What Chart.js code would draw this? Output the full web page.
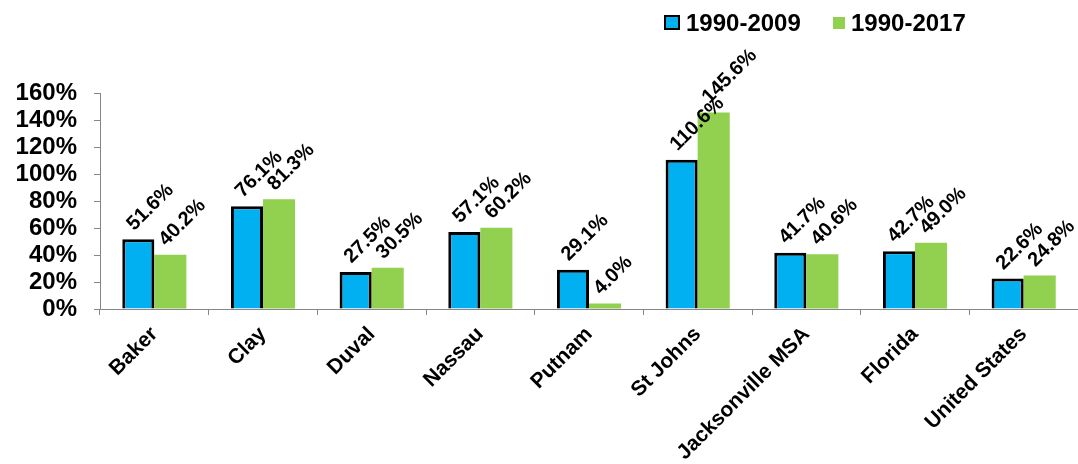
<!DOCTYPE html>
<html>
<head>
<meta charset="utf-8">
<script src="https://cdn.jsdelivr.net/npm/chart.js@4.4.1/dist/chart.umd.min.js"></script>
<style>
  html, body { margin: 0; padding: 0; background: #fff; }
  #wrap { position: relative; width: 1078px; height: 464px; overflow: hidden; }
  #chart { position: absolute; left: 0; top: 0; }
  .legend-box { position: absolute; box-sizing: border-box; }
  .legend-text {
    position: absolute;
    font: bold 24px 'Liberation Sans', Arial, sans-serif;
    line-height: 24px;
    color: #000;
    white-space: nowrap;
  }
</style>
</head>
<body>
<div id="wrap">
  <canvas id="chart" width="1078" height="464"></canvas>
  <div id="legend"></div>
</div>
<script>
const categories = ['Baker', 'Clay', 'Duval', 'Nassau', 'Putnam', 'St Johns', 'Jacksonville MSA', 'Florida', 'United States'];
const seriesNames = ['1990-2009', '1990-2017'];
const growth1990to2009 = [51.6, 76.1, 27.5, 57.1, 29.1, 110.6, 41.7, 42.7, 22.6];
const growth1990to2017 = [40.2, 81.3, 30.5, 60.2, 4.0, 145.6, 40.6, 49.0, 24.8];

const fontFamily = "'Liberation Sans', Arial, sans-serif";
const axisGray = '#868686';
const blue = '#00B0F0';
const green = '#92D050';

Chart.defaults.font.family = fontFamily;
Chart.defaults.color = '#000';

// rotated value labels above each bar
const dataLabels = {
  id: 'dataLabels',
  afterDatasetsDraw(chart) {
    const { ctx } = chart;
    ctx.save();
    ctx.font = `bold 20px ${fontFamily}`;
    ctx.fillStyle = '#000';
    ctx.textAlign = 'left';
    ctx.textBaseline = 'middle';
    chart.data.datasets.forEach((ds, i) => {
      chart.getDatasetMeta(i).data.forEach((bar, j) => {
        ctx.save();
        ctx.translate(bar.x - 8, bar.y - 12);
        ctx.rotate(-Math.PI / 4);
        ctx.fillText(`${ds.data[j].toFixed(1)}%`, 0, 0);
        ctx.restore();
      });
    });
    ctx.restore();
  },
};

const chart = new Chart(document.getElementById('chart'), {
  type: 'bar',
  data: {
    labels: categories,
    datasets: [
      {
        label: seriesNames[0],
        data: growth1990to2009,
        backgroundColor: blue,
        borderColor: '#000',
        borderWidth: 3,
        categoryPercentage: 0.59,
        barPercentage: 1,
      },
      {
        label: seriesNames[1],
        data: growth1990to2017,
        backgroundColor: green,
        borderWidth: 0,
        categoryPercentage: 0.59,
        barPercentage: 1,
      },
    ],
  },
  options: {
    responsive: false,
    animation: false,
    layout: { padding: { top: 93, right: 0, bottom: 0, left: 0 } },
    plugins: {
      legend: { display: false },
      tooltip: { enabled: false },
    },
    scales: {
      x: {
        grid: { offset: true, drawOnChartArea: false, tickLength: 6, color: axisGray },
        border: { color: axisGray },
        ticks: {
          autoSkip: false,
          minRotation: 45,
          maxRotation: 45,
          padding: 7,
          font: { size: 21, weight: 'bold' },
        },
        afterFit: (scale) => { scale.height = 155; },
      },
      y: {
        min: 0,
        max: 160,
        grid: { drawOnChartArea: false, tickLength: 6, color: axisGray },
        border: { color: axisGray },
        ticks: {
          stepSize: 20,
          autoSkip: false,
          padding: 17,
          font: { size: 24, weight: 'bold' },
          callback: (value) => `${value}%`,
        },
        afterFit: (scale) => { scale.width = 100; },
      },
    },
  },
  plugins: [dataLabels],
});

// legend drawn as html, colours taken from the datasets
const legendEl = document.getElementById('legend');
const legendSpots = [
  { box: [664, 15, 16, 15], border: 2.5, text: 686 },
  { box: [833, 17, 12, 12], border: 0, text: 851 },
];
chart.data.datasets.forEach((ds, i) => {
  const spot = legendSpots[i];
  const box = document.createElement('div');
  box.className = 'legend-box';
  box.style.left = `${spot.box[0]}px`;
  box.style.top = `${spot.box[1]}px`;
  box.style.width = `${spot.box[2]}px`;
  box.style.height = `${spot.box[3]}px`;
  box.style.background = ds.backgroundColor;
  if (spot.border) box.style.border = `${spot.border}px solid #000`;
  const text = document.createElement('span');
  text.className = 'legend-text';
  text.style.left = `${spot.text}px`;
  text.style.top = '11px';
  text.textContent = ds.label;
  legendEl.append(box, text);
});
</script>
</body>
</html>
